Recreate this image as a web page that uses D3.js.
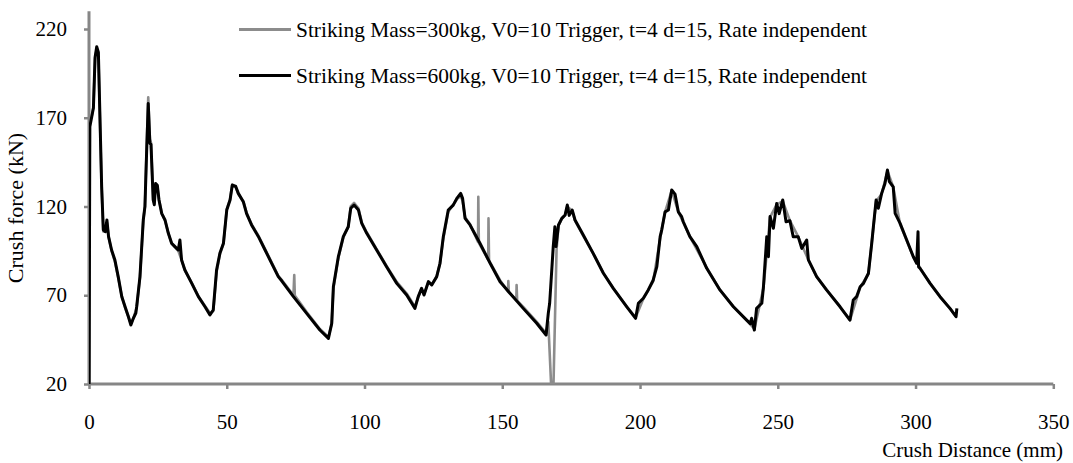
<!DOCTYPE html>
<html><head><meta charset="utf-8">
<script src="https://cdn.jsdelivr.net/npm/d3@7"></script>
<style>
body{margin:0;background:#fff}
svg{display:block}
text{font-family:"Liberation Serif","Times New Roman",serif;fill:#000}
</style>
</head><body>
<svg id="chart" width="1073" height="463"></svg>
<script>
// ---- data ----
const xTickValues = [0, 50, 100, 150, 200, 250, 300, 350];
const yTickValues = [20, 70, 120, 170, 220];
const seriesNames = [
  "Striking Mass=300kg, V0=10 Trigger, t=4 d=15, Rate independent",
  "Striking Mass=600kg, V0=10 Trigger, t=4 d=15, Rate independent"
];
const xTitle = "Crush Distance (mm)";
const yTitle = "Crush force (kN)";

// 600 kg (black)
const dist600 = [0,0.3,1.0,1.6,2.2,2.8,3.4,4.0,4.6,5.2,5.9,6.5,7.1,8.2,9.4,10.6,11.9,13.1,14.3,15.2,16.1,17.0,17.3,18.5,19.7,20.3,20.9,21.5,22.1,22.5,23.3,23.7,24.2,24.8,25.4,26.4,27.6,28.8,30.0,31.2,32.4,33.0,33.6,34.8,37.3,39.7,42.1,43.9,45.1,46.3,47.5,48.8,50.0,51.2,52.0,53.2,54.2,56.0,57.2,59.0,61.5,63.9,66.3,68.7,70.0,74.2,79.0,83.8,86.9,88.1,88.7,90.5,92.3,94.1,95.0,96.2,97.8,99.0,100.8,104.4,108.0,111.7,115.3,118.3,119.5,120.7,121.6,123.2,124.4,126.2,127.4,128.6,130.4,132.2,133.5,134.9,135.6,136.5,138.3,141.9,145.6,149.2,152.8,157.6,162.5,165.9,166.7,167.2,168.5,169.1,169.5,170.4,171.6,172.8,173.6,174.3,175.4,176.4,179.4,183.0,186.7,190.3,195.2,198.4,199.4,201.2,203.0,204.8,206.1,207.3,207.9,209.1,210.3,211.5,212.7,213.9,215.1,215.7,218.1,220.6,224.2,229.0,233.9,238.7,240.0,240.5,241.5,242.3,244.2,244.8,246.0,246.6,247.2,248.4,249.6,250.5,251.8,253.0,254.4,255.6,257.4,258.7,260.5,261.1,264.1,267.7,272.6,276.2,277.4,278.6,279.9,281.1,282.9,284.1,284.7,285.7,286.5,287.7,288.9,289.8,290.5,291.9,292.6,294.4,296.8,299.2,300.4,300.9,301.1,301.6,305.3,308.9,312.5,314.7,315.0];
const force600 = [0,165,170.6,175.5,204,210,207,168.7,131,106.8,105.8,112.4,103,95.5,89.9,80.5,69.2,63.5,57.9,53.2,57,60,63.5,80.5,112.4,119.9,150,178,155.6,155,123.7,121,133,132,123.7,116,112.4,104.9,99.3,97.4,95.5,101.1,89.9,84.2,76.7,69.2,63.5,58.9,61.7,84.2,93.6,99.3,118,123.7,132,131.5,127.4,122.7,116,109.6,103,95.5,88,80.5,78,69.2,59.8,50.4,45.7,54.1,74.8,91.7,103,108.6,119,120.8,118,110.5,104.9,95.5,86.1,76.7,70.1,62.6,69.2,73.9,70.1,77.7,75.8,80.5,88,103,118,120.8,124.6,127.4,124.6,113.3,109.6,99.3,88,77.6,71.1,62.6,54.2,47.6,59.8,65.5,97.4,108.6,97.4,109.6,113.3,115.2,120.8,115,118,112.4,103.9,93.6,82.4,73.9,63.5,57,65.5,68.3,73,78.6,86.1,103,107,117,118,129.3,127,117,114.3,111.4,103,97.4,85.2,73,63.5,56,54,57,50.4,62.6,65.5,74.8,103,91.7,114.3,107.7,121.7,116,123.7,111.4,112,103,103,96.4,101.1,89.9,80.5,73,63.5,56,67.3,69.2,74.8,76.7,82.4,99.3,108.6,123.7,119,127.4,133,140.6,134,131,116.1,110.5,101.1,91.7,88,105.8,86,85.2,76.7,69.2,62.6,57.9,62.6];

// 300 kg (grey)
const dist300 = [0,0.3,1.0,1.6,2.2,2.8,3.4,4.0,4.6,5.2,5.9,6.5,7.1,8.2,9.4,10.6,11.9,13.1,14.3,15.2,16.1,17.3,18.5,19.7,20.3,20.9,21.5,22.1,22.5,23.3,23.7,24.2,24.8,25.4,26.4,27.6,28.8,30.0,31.2,32.4,33.6,34.8,37.3,39.7,42.1,43.9,45.1,46.3,47.5,48.8,50.0,51.2,52.0,53.2,54.2,56.0,57.2,59.0,61.5,63.9,66.3,68.7,70.0,74.2,74.5,74.7,79.0,83.8,86.9,88.1,88.7,90.5,92.3,94.1,95.0,96.2,97.8,99.0,100.8,104.4,108.0,111.7,115.3,118.3,119.5,120.7,121.6,123.2,124.4,126.2,127.4,128.6,130.4,132.2,133.5,134.9,135.6,136.5,138.3,141.2,141.3,141.5,144.9,145.0,145.2,149.2,152.1,152.2,152.4,155.1,155.2,155.4,157.6,162.5,165.9,166.7,168.3,169.7,170.4,171.6,172.8,173.6,175.4,176.4,179.4,183.0,186.7,190.3,195.2,198.4,201.2,204.8,207.3,209.1,211.5,213.9,218.1,224.2,229.0,233.9,238.7,241.5,244.8,247.2,249.6,251.8,254.4,257.4,261.1,264.1,267.7,272.6,276.2,279.9,282.9,285.7,287.7,289.8,291.9,294.4,299.2,305.3,308.9,312.5,314.7];
const force300 = [0,168,171,176,203,209,206,167,130,106,106,111,103,95,89,80,69.5,63,58,54,57,63,80,112,120,152,181.5,158,156,124,122,133,131,124,116.5,112,105,99,97,95,90,84,77,69.5,64,60,61,83,93,99,118.5,124,132.5,131,127,123,116.5,110,103.5,96,88.5,81,78.5,70,81.4,69.8,60.5,51,46.5,54,74,91,102.5,108.5,120,122,119,111,105.5,96,86.5,77.5,71,63.5,69,73.5,70.5,77.5,76,80.5,88,102,117,121,124,126,123,114,110,100,125.5,99.5,90,113.3,89.5,78.5,72,78,71.5,67.5,75.8,67,63.5,55,48.5,55,0,95.5,109,113,115,120,117.5,112,103.5,93.5,82.5,74,63.5,57.5,68,78,102,117,129,117,103,85.5,73,63.5,56,51,74,114,121,123,112,103,90,80.5,73,63.5,56,74.5,82,123,127,140,131,110,91.5,76.5,69,62.5,58];

// ---- layout ----
const svg = d3.select("#chart");
const x = d3.scaleLinear().domain([0, 350]).range([89, 1053.3]);
const y = d3.scaleLinear().domain([20, 230]).range([384, 11.25]);
const axisColor = "#868686";
const FS = 21;

// clip to plot area
svg.append("defs").append("clipPath").attr("id", "plotClip")
  .append("rect").attr("x", x(0)).attr("y", y(230))
  .attr("width", x(350) - x(0)).attr("height", y(20) - y(230));

// x axis
const xAxis = d3.axisBottom(x).tickValues(xTickValues).tickSize(5).tickFormat(d3.format("d"));
const gx = svg.append("g").attr("transform", `translate(0,${y(20)})`).call(xAxis);
gx.select(".domain").attr("stroke", axisColor).attr("stroke-width", 3).attr("d", `M${x(0)},0H${x(350)}`);
gx.selectAll(".tick line").attr("stroke", axisColor).attr("stroke-width", 2.5);
gx.selectAll(".tick text").attr("font-size", FS).attr("font-family", "Liberation Serif, serif").attr("fill", "#000").attr("y", 30).attr("dy", "0.71em");

// y axis
const yAxis = d3.axisLeft(y).tickValues(yTickValues).tickSize(5).tickFormat(d3.format("d"));
const gy = svg.append("g").attr("transform", `translate(${x(0)},0)`).call(yAxis);
gy.select(".domain").attr("stroke", axisColor).attr("stroke-width", 3).attr("d", `M0,${y(20)}V${y(230)}`);
gy.selectAll(".tick line").attr("stroke", axisColor).attr("stroke-width", 2.5);
gy.selectAll(".tick text").attr("font-size", FS).attr("font-family", "Liberation Serif, serif").attr("fill", "#000").attr("x", -22);

// axis titles
svg.append("text").attr("x", 1063).attr("y", 457).attr("text-anchor", "end").attr("font-size", FS).text(xTitle);
svg.append("text").attr("transform", `translate(23,${208}) rotate(-90)`).attr("text-anchor", "middle").attr("font-size", 22).text(yTitle);

// series
const line = d3.line().x(d => x(d[0])).y(d => y(d[1]));
const grey = d3.zip(dist300, force300);
const black = d3.zip(dist600, force600);
const plot = svg.append("g").attr("clip-path", "url(#plotClip)");
plot.append("path").datum(grey).attr("d", line).attr("fill", "none")
  .attr("stroke", "#8c8c8c").attr("stroke-width", 2.6).attr("stroke-linejoin", "round");
plot.append("path").datum(black).attr("d", line).attr("fill", "none")
  .attr("stroke", "#000").attr("stroke-width", 3).attr("stroke-linejoin", "round");

// legend
const legendColors = ["#8c8c8c", "#000"];
const legendY = [29.5, 75.5];
seriesNames.forEach((name, i) => {
  const g = svg.append("g").attr("transform", `translate(0,${legendY[i]})`);
  g.append("line").attr("x1", 239).attr("x2", 291).attr("y1", 0).attr("y2", 0)
    .attr("stroke", legendColors[i]).attr("stroke-width", 3);
  g.append("text").attr("x", 296).attr("y", 0).attr("dy", "0.34em").attr("font-size", 21.4).text(name);
});
</script>
</body></html>
